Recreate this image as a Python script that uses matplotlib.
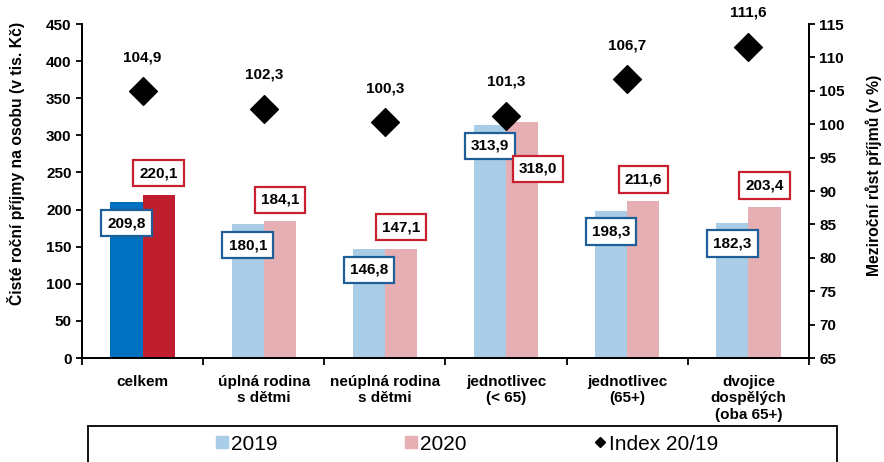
import numpy as np
import matplotlib.pyplot as plt
from matplotlib.patches import Rectangle
from matplotlib.lines import Line2D

plt.rcParams['font.family'] = ['Liberation Sans', 'DejaVu Sans']

categories = ['celkem', 'úplná rodina\ns dětmi', 'neúplná rodina\ns dětmi',
              'jednotlivec\n(< 65)', 'jednotlivec\n(65+)', 'dvojice\ndospělých\n(oba 65+)']
v2019 = [209.8, 180.1, 146.8, 313.9, 198.3, 182.3]
v2020 = [220.1, 184.1, 147.1, 318.0, 211.6, 203.4]
index = [104.9, 102.3, 100.3, 101.3, 106.7, 111.6]

c19 = ['#0070C0'] + ['#A9CDE6'] * 5
c20 = ['#BE1E2D'] + ['#E6AFB3'] * 5
blue_edge = '#1F5F99'
red_edge = '#C8202F'

fig = plt.figure(figsize=(8.84, 4.62), dpi=100)
ax = fig.add_axes([82/884, 1 - 358/462, (809-82)/884, (358-24)/462])
ax2 = ax.twinx()

x = np.arange(len(categories))
w = 0.265
ax.bar(x - w/2, v2019, w, color=c19, zorder=2)
ax.bar(x + w/2, v2020, w, color=c20, zorder=2)

def fmt(v):
    return f'{v:.1f}'.replace('.', ',')

for i in range(len(x)):
    ax.text(x[i] - w/2, v2019[i] - 28, fmt(v2019[i]), ha='center', va='center',
            fontsize=11, fontweight='bold', zorder=5,
            bbox=dict(boxstyle='square,pad=0.4', fc='white', ec=blue_edge, lw=1.6))
    # the tall bar has its 2020 label pushed below and to the right
    if i == 3:
        lx, ly = x[i] + w/2 + 0.13, v2020[i] - 63
    else:
        lx, ly = x[i] + w/2, v2020[i] + 29
    ax.text(lx, ly, fmt(v2020[i]), ha='center', va='center',
            fontsize=11, fontweight='bold', zorder=5,
            bbox=dict(boxstyle='square,pad=0.4', fc='white', ec=red_edge, lw=1.6))

ax.set_xlim(-0.5, len(x) - 0.5)
ax.set_ylim(0, 450)
ax.set_yticks(np.arange(0, 451, 50))
ax.set_xticks(np.arange(-0.5, len(x), 1), minor=True)
ax.set_xticks(x)
ax.set_xticklabels(categories, fontsize=11, fontweight='bold', linespacing=1.25)
ax.tick_params(axis='x', which='major', length=0, pad=12)
ax.tick_params(axis='x', which='minor', length=5, width=1.3, direction='out')
ax.tick_params(axis='y', direction='out', length=4, width=1.3, labelsize=11)
for lab in ax.get_yticklabels():
    lab.set_fontweight('bold')
ax.set_ylabel('Čisté roční příjmy na osobu (v tis. Kč)', fontsize=11.3, fontweight='bold')
ax.yaxis.set_label_coords(-0.078, 0.584)

ax2.scatter(x, index, marker='D', s=200, color='black', zorder=4)
for i in range(len(x)):
    ax2.text(x[i], index[i] + 5.1, fmt(index[i]), ha='center', va='center',
             fontsize=11, fontweight='bold')
ax2.set_ylim(65, 115)
ax2.set_yticks(np.arange(65, 116, 5))
ax2.tick_params(axis='y', direction='out', length=4, width=1.3, labelsize=11)
for lab in ax2.get_yticklabels():
    lab.set_fontweight('bold')
ax2.set_ylabel('Meziroční růst příjmů (v %)', fontsize=11.3, fontweight='bold')
ax2.yaxis.set_label_coords(1.077, 0.548)

for a in (ax, ax2):
    a.spines['top'].set_visible(False)
    for s in ('left', 'right', 'bottom'):
        a.spines[s].set_linewidth(1.3)

# legend frame
fig.patches.append(Rectangle((88/884, -0.05), (837-88)/884, 1 - 426/462 + 0.05,
                             transform=fig.transFigure, fill=False, ec='black', lw=1.3))
handles = [Line2D([], [], ls='', marker='s', ms=9, color='#A9CDE6'),
           Line2D([], [], ls='', marker='s', ms=9, color='#E6AFB3'),
           Line2D([], [], ls='', marker='D', ms=5.5, color='black')]
fig.legend(handles, ['2019', '2020', 'Index 20/19'], ncol=3, frameon=False,
           loc='center', bbox_to_anchor=(466/884, 1 - 444/462),
           prop={'family': ['Liberation Sans Narrow', 'Liberation Sans'], 'size': 15},
           handletextpad=0.05, handlelength=0.8, columnspacing=6.0)

fig.savefig('out.png', dpi=100)
